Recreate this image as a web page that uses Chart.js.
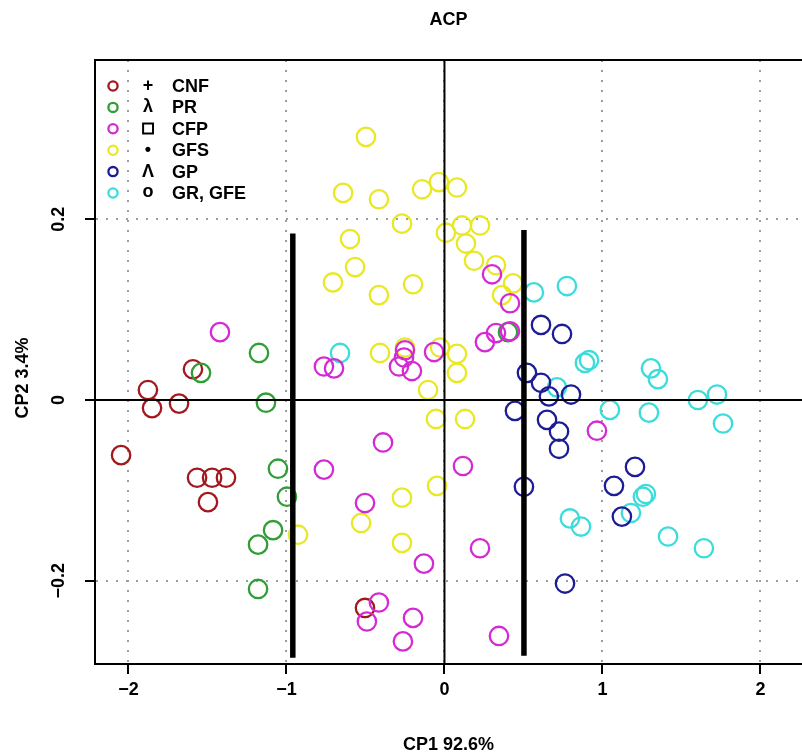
<!DOCTYPE html>
<html>
<head>
<meta charset="utf-8">
<script src="https://cdn.jsdelivr.net/npm/chart.js@4/dist/chart.umd.min.js"></script>
<style>
  html, body { margin: 0; padding: 0; background: #fff; overflow: hidden; }
  #wrap { width: 802px; height: 756px; }
</style>
</head>
<body>
<div id="wrap"><canvas id="c" width="802" height="756"></canvas></div>
<script>
// Groups, their legend symbols and colours
const groupNames   = ['CNF', 'PR', 'CFP', 'GFS', 'GP', 'GR, GFE'];
const groupMarkers = ['+', 'λ', '□', '•', 'Λ', 'o'];
const groupColors  = ['#a3181e', '#2f9e36', '#d42ad4', '#e8e824', '#1c1c96', '#3adcdc'];

// Scores on the first two principal components [CP1, CP2]
const cnf = [
  [-2.047, -0.061], [-1.877, 0.011], [-1.851, -0.009], [-1.680, -0.004], [-1.592, 0.034],
  [-1.566, -0.086], [-1.471, -0.086], [-1.383, -0.086], [-1.497, -0.113], [-0.503, -0.230]
];
const pr = [
  [-1.541, 0.030], [-1.174, 0.052], [-1.130, -0.003], [-1.054, -0.076], [-0.997, -0.107],
  [-1.085, -0.144], [-1.180, -0.160], [-1.180, -0.209], [0.402, 0.075]
];
const cfp = [
  [-1.421, 0.075], [-0.763, 0.037], [-0.699, 0.035], [-0.250, 0.055], [-0.256, 0.047],
  [-0.288, 0.037], [-0.206, 0.032], [-0.066, 0.053], [0.256, 0.064], [0.326, 0.074],
  [0.415, 0.076], [0.301, 0.139], [0.415, 0.107], [-0.389, -0.047], [-0.763, -0.077],
  [0.117, -0.073], [-0.503, -0.114], [0.225, -0.164], [-0.130, -0.181], [-0.415, -0.224],
  [-0.491, -0.245], [-0.199, -0.241], [-0.263, -0.267], [0.345, -0.261], [0.965, -0.034]
];
const gfs = [
  [-0.497, 0.291], [-0.642, 0.229], [-0.415, 0.222], [-0.142, 0.233], [-0.035, 0.241],
  [0.079, 0.235], [-0.269, 0.195], [0.009, 0.185], [0.111, 0.193], [0.225, 0.193],
  [0.136, 0.173], [0.187, 0.154], [0.326, 0.149], [-0.598, 0.178], [-0.566, 0.147],
  [-0.706, 0.130], [-0.415, 0.116], [-0.199, 0.128], [0.434, 0.129], [0.364, 0.116],
  [-0.408, 0.052], [-0.250, 0.058], [-0.028, 0.058], [0.079, 0.051], [0.079, 0.030],
  [-0.104, 0.011], [-0.054, -0.021], [0.130, -0.021], [-0.047, -0.095], [-0.269, -0.108],
  [-0.528, -0.136], [-0.927, -0.149], [-0.269, -0.158]
];
const gp = [
  [0.611, 0.083], [0.744, 0.073], [0.522, 0.030], [0.611, 0.019], [0.661, 0.004],
  [0.801, 0.006], [0.446, -0.012], [0.649, -0.022], [0.725, -0.035], [0.725, -0.054],
  [0.503, -0.096], [1.206, -0.074], [1.073, -0.095], [1.123, -0.129], [0.763, -0.203]
];
const grGfe = [
  [-0.661, 0.052], [0.566, 0.119], [0.775, 0.126], [0.889, 0.041], [0.915, 0.044],
  [1.307, 0.035], [1.351, 0.023], [0.712, 0.014], [1.047, -0.011], [1.294, -0.014],
  [1.604, 0.000], [1.725, 0.006], [1.763, -0.026], [0.794, -0.131], [0.864, -0.140],
  [1.256, -0.107], [1.275, -0.104], [1.180, -0.125], [1.415, -0.151], [1.642, -0.164]
];
const groups = [cnf, pr, cfp, gfs, gp, grGfe];
// which group is painted first (higher = further back)
const groupDepth = [4, 3, 2, 6, 1, 5];

// Axes
const xTicks = [-2, -1, 0, 1, 2];
const xTickLabels = ['\u22122', '\u22121', '0', '1', '2'];
const yTicks = [-0.2, 0, 0.2];
const yTickLabels = ['\u22120.2', '0', '0.2'];
const xRange = [-2.212, 2.263];
const yRange = [-0.292, 0.376];

// Two vertical separators between the clusters: [CP1, CP2 top, CP2 bottom]
const splitLines = [[-0.960, 0.184, -0.285], [0.503, 0.188, -0.283]];

const FONT = 'Arial, "Liberation Sans", Helvetica, sans-serif';
const boldFont = { family: FONT, size: 18, weight: 'bold' };

const datasets = [];
// zero reference lines
datasets.push({
  type: 'scatter', showLine: true, data: [{ x: xRange[0], y: 0 }, { x: xRange[1], y: 0 }],
  borderColor: '#000', borderWidth: 2, pointRadius: 0, order: 0
});
datasets.push({
  type: 'scatter', showLine: true, data: [{ x: 0, y: yRange[0] }, { x: 0, y: yRange[1] }],
  borderColor: '#000', borderWidth: 2, pointRadius: 0, order: 0
});
splitLines.forEach(l => datasets.push({
  type: 'scatter', showLine: true, data: [{ x: l[0], y: l[1] }, { x: l[0], y: l[2] }],
  borderColor: '#000', borderWidth: 5.5, pointRadius: 0, order: 0
}));
groups.forEach((g, i) => datasets.push({
  type: 'scatter', label: groupNames[i],
  data: g.map(p => ({ x: p[0], y: p[1] })),
  pointStyle: 'circle', pointRadius: 9.2, pointBorderWidth: 2.3,
  borderColor: groupColors[i], backgroundColor: 'rgba(0,0,0,0)',
  pointBackgroundColor: 'rgba(0,0,0,0)', pointBorderColor: groupColors[i],
  showLine: false, order: groupDepth[i]
}));

// Frame top, y tick labels, y title and the legend block
const decorations = {
  id: 'decorations',
  afterDraw(chart) {
    const { ctx, chartArea, scales } = chart;
    ctx.save();
    // top frame line
    ctx.strokeStyle = '#000';
    ctx.lineWidth = 2;
    ctx.beginPath();
    ctx.moveTo(chartArea.left - 1, chartArea.top);
    ctx.lineTo(chartArea.right + 2, chartArea.top);
    ctx.stroke();

    ctx.fillStyle = '#000';
    ctx.font = 'bold 18px ' + FONT;
    ctx.textAlign = 'center';
    ctx.textBaseline = 'middle';
    // rotated y tick labels
    yTicks.forEach((v, i) => {
      const y = scales.y.getPixelForValue(v);
      ctx.save();
      ctx.translate(59, y);
      ctx.rotate(-Math.PI / 2);
      ctx.fillText(yTickLabels[i], 0, 0);
      ctx.restore();
    });
    // y axis title
    ctx.save();
    ctx.translate(23, 378);
    ctx.rotate(-Math.PI / 2);
    ctx.fillText('CP2 3.4%', 0, 0);
    ctx.restore();

    // legend
    groupNames.forEach((name, i) => {
      const y = 86 + i * 21.4;
      ctx.beginPath();
      ctx.strokeStyle = groupColors[i];
      ctx.lineWidth = 2.3;
      ctx.arc(113, y, 4.6, 0, Math.PI * 2);
      ctx.stroke();
      ctx.fillStyle = '#000';
      ctx.strokeStyle = '#000';
      ctx.textAlign = 'center';
      const m = groupMarkers[i];
      if (m === '□') {
        // hollow box marker, thickened with an outline pass
        ctx.font = 'bold 14px "DejaVu Sans", ' + FONT;
        ctx.lineWidth = 1.2;
        ctx.fillText(m, 148, y);
        ctx.strokeText(m, 148, y);
      } else {
        ctx.font = 'bold 18px ' + FONT;
        ctx.fillText(m, 148, y + (m === 'o' ? -1 : 0));
      }
      ctx.textAlign = 'left';
      ctx.font = 'bold 18px ' + FONT;
      ctx.fillText(name, 172, y + 1);
    });
    ctx.restore();
  }
};

new Chart(document.getElementById('c'), {
  type: 'scatter',
  data: { datasets },
  options: {
    responsive: false,
    animation: false,
    devicePixelRatio: 1,
    layout: { padding: 0, autoPadding: false },
    plugins: {
      legend: { display: false },
      tooltip: { enabled: false },
      title: {
        display: true, text: 'ACP', fullSize: false, color: '#000',
        font: boldFont, padding: { top: 9, bottom: 29.4 }
      }
    },
    scales: {
      x: {
        type: 'linear', min: xRange[0], max: xRange[1],
        afterBuildTicks: s => { s.ticks = xTicks.map(v => ({ value: v })); },
        afterFit: s => { s.height = 92; },
        ticks: {
          color: '#000', font: boldFont, padding: 5, maxRotation: 0,
          callback: (v, i) => xTickLabels[i]
        },
        grid: {
          color: '#9c9c9c', lineWidth: 2, drawTicks: true, tickLength: 10,
          tickColor: '#000', tickWidth: 2
        },
        border: { display: true, color: '#000', width: 2, dash: [2, 8] },
        title: {
          display: true, text: 'CP1 92.6%', color: '#000', font: boldFont,
          padding: { top: 0, bottom: 0 }
        }
      },
      y: {
        type: 'linear', min: yRange[0], max: yRange[1],
        afterBuildTicks: s => { s.ticks = yTicks.map(v => ({ value: v })); },
        afterFit: s => { s.width = 95; },
        ticks: { display: false },
        grid: {
          color: '#9c9c9c', lineWidth: 2, drawTicks: true, tickLength: 10,
          tickColor: '#000', tickWidth: 2
        },
        border: { display: true, color: '#000', width: 2, dash: [2, 8] }
      }
    }
  },
  plugins: [decorations]
});
</script>
</body>
</html>
